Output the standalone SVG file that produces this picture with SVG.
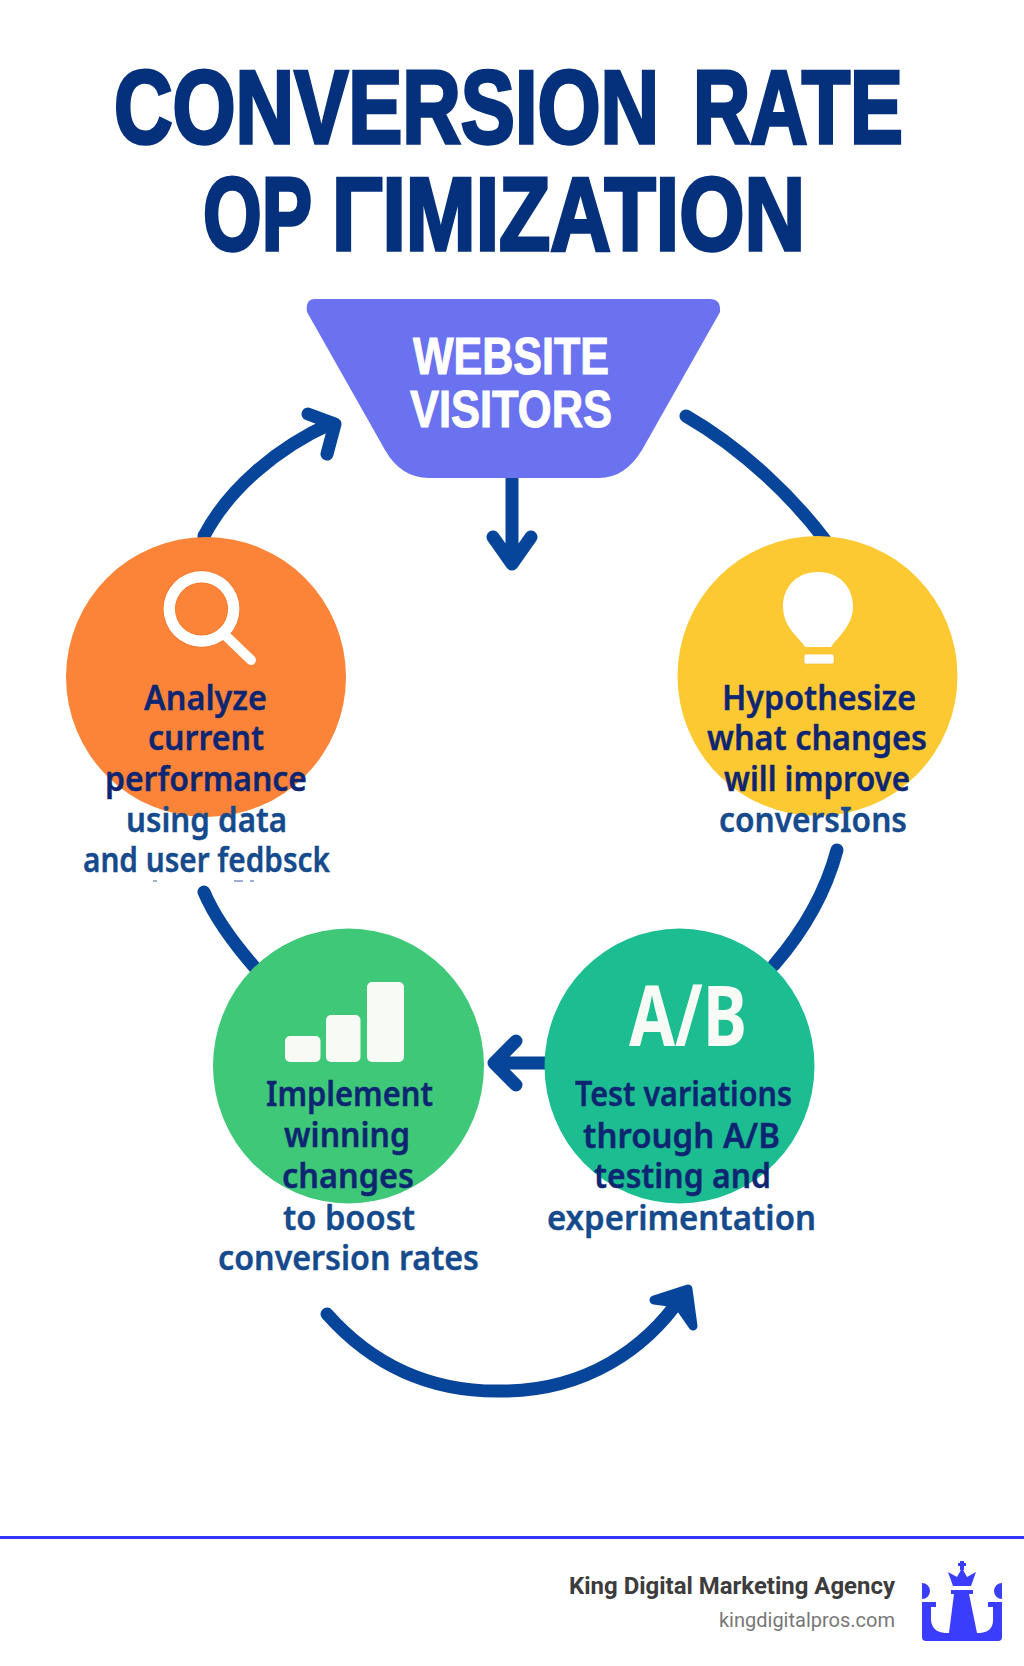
<svg xmlns="http://www.w3.org/2000/svg" width="1024" height="1666" viewBox="0 0 1024 1666">
<style>
text{text-anchor:start}
.title{font:700 103px "Liberation Sans",Arial,sans-serif;fill:#05307c;stroke:#05307c;stroke-width:3.5}
.fun{font:700 52px "Liberation Sans",Arial,sans-serif;fill:#fff;stroke:#fff;stroke-width:1}
.lb{font:600 34px "Noto Sans","Liberation Sans",sans-serif;stroke-width:.4}
.in{fill:#0e2672;stroke:#0e2672}
.out{fill:#154a8c;stroke:#154a8c}
.cn{fill:none;stroke:#07459b;stroke-width:13;stroke-linecap:round;stroke-linejoin:round}
.hd{fill:#07459b;stroke:#07459b;stroke-width:9;stroke-linejoin:round}
.ic{fill:#f8faf5}
</style>
<rect width="1024" height="1666" fill="#fff"/>
<g id="title">
<text class="title" x="114" y="143" textLength="545" lengthAdjust="spacingAndGlyphs">CONVERSION</text>
<text class="title" x="693" y="143" textLength="210" lengthAdjust="spacingAndGlyphs">RATE</text>
<text class="title" x="203" y="250" textLength="109" lengthAdjust="spacingAndGlyphs">OP</text>
<text class="title" x="332" y="250" textLength="473" lengthAdjust="spacingAndGlyphs">ΓIMIZATION</text>
</g>
<g id="connectors">
<path class="cn" d="M204 536C228 490 276 448 332 423M308 414L335 424L327 454"/>
<path class="cn" d="M686 416C745 450 795 500 825 540"/>
<path class="cn" d="M512 478V562M493 537L512 564L531 537"/>
<path class="cn" d="M837 850C825 895 800 935 774 965"/>
<path class="cn" d="M545 1063H496M516 1041L494 1063L516 1085"/>
<path class="cn" d="M204 892C215 918 235 945 257 970"/>
<path class="cn" d="M327 1314C375 1368 435 1393 505 1391C585 1390 645 1350 682 1296"/>
<path class="hd" d="M654 1300L688 1289L693 1326L677 1303Z"/>
</g>
<g id="funnel">
<path d="M315 299H710Q721 299 720 312L642 450Q625 478 599 478H429Q401 478 385 450L307 312Q305 299 315 299Z" fill="#6b72ef"/>
<text class="fun" x="413" y="374" textLength="196" lengthAdjust="spacingAndGlyphs">WEBSITE</text>
<text class="fun" x="410" y="427" textLength="202" lengthAdjust="spacingAndGlyphs">VISITORS</text>
</g>
<g id="node-analyze">
<circle cx="206" cy="677" r="140" fill="#fb8439"/>
<circle cx="201.5" cy="609" r="38.5" fill="#f26a1b"/>
<circle cx="201.5" cy="609" r="38" fill="#fff"/>
<circle cx="201.5" cy="609" r="26.5" fill="#f26a1b"/>
<circle cx="201.5" cy="609" r="26" fill="#fb8439"/>
<path d="M226 636L251 660" stroke="#fff" stroke-width="10" stroke-linecap="round"/>
<text class="lb in" x="144" y="710" textLength="123" lengthAdjust="spacingAndGlyphs">Analyze</text>
<text class="lb in" x="148" y="750" textLength="116" lengthAdjust="spacingAndGlyphs">current</text>
<text class="lb in" x="105" y="791" textLength="202" lengthAdjust="spacingAndGlyphs">performance</text>
<text class="lb out" x="126" y="832" textLength="161" lengthAdjust="spacingAndGlyphs">using data</text>
<text class="lb out" x="83" y="872" textLength="247" lengthAdjust="spacingAndGlyphs">and user fedbsck</text>
<path d="M153 880h4v2h-4ZM234 880h9v2h-9ZM250 880h4v2h-4Z" fill="#9db0d0"/>
</g>
<g id="node-hypothesize">
<circle cx="817.5" cy="676" r="140" fill="#fdc933"/>
<path d="M818 572C842 572 853 590 853 606C853 620 846 628 840 636L833 644L831 647H805L803 644L796 636C789 628 783 620 783 606C783 590 794 572 818 572Z" fill="#fff"/>
<rect x="804" y="654" width="30" height="10" rx="2" fill="#fff" stroke="#f5b01c" stroke-width=".6"/>
<text class="lb in" x="722" y="710" textLength="194" lengthAdjust="spacingAndGlyphs">Hypothesize</text>
<text class="lb in" x="707" y="750" textLength="220" lengthAdjust="spacingAndGlyphs">what changes</text>
<text class="lb in" x="724" y="791" textLength="186" lengthAdjust="spacingAndGlyphs">will improve</text>
<text class="lb out" x="719" y="832" textLength="188" lengthAdjust="spacingAndGlyphs">conversIons</text>
</g>
<g id="node-implement">
<ellipse cx="348.5" cy="1066" rx="135.5" ry="137.5" fill="#3ec878"/>
<rect class="ic" x="285" y="1036" width="35.5" height="26" rx="5"/>
<rect class="ic" x="326" y="1015" width="34.5" height="47" rx="5"/>
<rect class="ic" x="367" y="982" width="37" height="80" rx="5"/>
<text class="lb in" x="266" y="1106" textLength="167" lengthAdjust="spacingAndGlyphs">Implement</text>
<text class="lb in" x="284" y="1147" textLength="126" lengthAdjust="spacingAndGlyphs">winning</text>
<text class="lb in" x="282" y="1188" textLength="132" lengthAdjust="spacingAndGlyphs">changes</text>
<text class="lb out" x="283" y="1230" textLength="132" lengthAdjust="spacingAndGlyphs">to boost</text>
<text class="lb out" x="218" y="1270" textLength="261" lengthAdjust="spacingAndGlyphs">conversion rates</text>
</g>
<g id="node-test">
<ellipse cx="679.5" cy="1066" rx="135" ry="137.5" fill="#1dbd92"/>
<text x="629" y="1046" textLength="118" lengthAdjust="spacingAndGlyphs" style="font:700 84px 'Noto Sans','Liberation Sans',sans-serif;fill:#f8faf5">A/B</text>
<text class="lb in" x="575" y="1106" textLength="217" lengthAdjust="spacingAndGlyphs">Test variations</text>
<text class="lb in" x="583" y="1148" textLength="197" lengthAdjust="spacingAndGlyphs">through A/B</text>
<text class="lb in" x="594" y="1188" textLength="177" lengthAdjust="spacingAndGlyphs">testing and</text>
<text class="lb out" x="547" y="1230" textLength="269" lengthAdjust="spacingAndGlyphs">experimentation</text>
</g>
<g id="footer">
<rect y="1536" width="1024" height="3" fill="#3535fa"/>
<text x="895" y="1594" textLength="326" lengthAdjust="spacingAndGlyphs" style="font:700 24px Roboto,'Liberation Sans',sans-serif;fill:#3c3c3c;text-anchor:end">King Digital Marketing Agency</text>
<text x="895" y="1627" style="font:400 20px Roboto,'Liberation Sans',sans-serif;fill:#777;text-anchor:end">kingdigitalpros.com</text>
</g>
<g id="logo" fill="#3a3dfb">
<path d="M922 1583A8 8 0 0 1 922 1599ZM1002 1583A8 8 0 0 0 1002 1599ZM922 1602H936V1607H931V1620Q932 1632 945 1633H980Q993 1632 993 1620V1607H988V1602H1002V1637Q1002 1641 998 1641H926Q922 1641 922 1637Z"/>
<path d="M949 1633L954 1594H969L977 1633Z"/>
<rect x="951" y="1590" width="22" height="4"/>
<path d="M948 1572L957 1577L962 1568L967 1577L976 1572L971 1586H953Z"/>
<rect x="960" y="1561" width="4" height="9"/><rect x="958" y="1563" width="8" height="3"/>
</g>
</svg>
